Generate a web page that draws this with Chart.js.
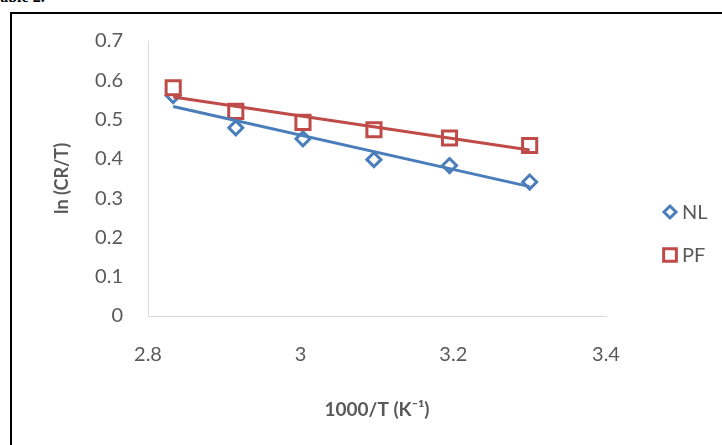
<!DOCTYPE html>
<html>
<head>
<meta charset="utf-8">
<script src="https://cdn.jsdelivr.net/npm/chart.js@4/dist/chart.umd.min.js"></script>
<style>
  html, body { margin: 0; padding: 0; background: #fff; overflow: hidden; }
  #wrap { position: relative; width: 722px; height: 445px; }
  #cap { position: absolute; left: -9px; top: -11px; font: bold 16px "Liberation Serif", serif; color: #000; line-height: 16px; }
  #frame { position: absolute; left: 10px; top: 12px; width: 720px; height: 500px;
           border-left: 2px solid #000; border-top: 2px solid #000; }
  canvas { position: absolute; left: 0; top: 0; }
</style>
</head>
<body>
<div id="wrap">
  <div id="cap">Table 2.</div>
  <div id="frame"></div>
  <canvas id="c" width="722" height="445"></canvas>
</div>
<script>
// 1000/T (K^-1) for each measurement temperature
const invTemp = [2.833, 2.915, 3.003, 3.096, 3.195, 3.300];
// ln(CR/T) per sample
const nlValues = [0.561, 0.479, 0.451, 0.398, 0.383, 0.341];
const pfValues = [0.581, 0.521, 0.493, 0.474, 0.453, 0.434];
// axis tick labels
const xTicks = [2.8, 3, 3.2, 3.4];
const yTicks = [0, 0.1, 0.2, 0.3, 0.4, 0.5, 0.6, 0.7];
const seriesNames = ['NL', 'PF'];

const blue = '#4A7EBB';
const red = '#BE4B48';
const textGrey = '#595959';
const axisGrey = '#D9D9D9';
const FONT = 'Lato, "Open Sans", sans-serif';

function toPoints(xs, ys) {
  return xs.map((x, i) => ({ x: x, y: ys[i] }));
}

// least-squares linear trendline over the x range of the data
function trendline(xs, ys) {
  const n = xs.length;
  const mx = xs.reduce((a, b) => a + b, 0) / n;
  const my = ys.reduce((a, b) => a + b, 0) / n;
  let sxy = 0, sxx = 0;
  for (let i = 0; i < n; i++) {
    sxy += (xs[i] - mx) * (ys[i] - my);
    sxx += (xs[i] - mx) * (xs[i] - mx);
  }
  const slope = sxy / sxx;
  const x0 = Math.min(...xs), x1 = Math.max(...xs);
  return [{ x: x0, y: my + slope * (x0 - mx) }, { x: x1, y: my + slope * (x1 - mx) }];
}

function drawMarker(ctx, style, x, y, r, color, width) {
  ctx.save();
  ctx.beginPath();
  if (style === 'rectRot') {
    ctx.moveTo(x - r, y); ctx.lineTo(x, y - r); ctx.lineTo(x + r, y); ctx.lineTo(x, y + r);
    ctx.closePath();
  } else {
    const s = Math.SQRT1_2 * r;
    ctx.rect(x - s, y - s, 2 * s, 2 * s);
  }
  ctx.fillStyle = '#fff';
  ctx.fill();
  ctx.lineWidth = width;
  ctx.strokeStyle = color;
  ctx.stroke();
  ctx.restore();
}

// legend at the right, one row per series
const sideLegend = {
  id: 'sideLegend',
  afterDraw(chart) {
    const ctx = chart.ctx;
    const rows = [
      { ds: chart.data.datasets[0], y: 212 },
      { ds: chart.data.datasets[1], y: 255 }
    ];
    rows.forEach(row => {
      const ds = row.ds;
      drawMarker(ctx, ds.pointStyle, 670, row.y, ds.pointStyle === 'rect' ? 9 : 6, ds.borderColor, ds.pointBorderWidth);
      ctx.save();
      ctx.fillStyle = textGrey;
      ctx.font = '20px ' + FONT;
      ctx.textBaseline = 'middle';
      ctx.textAlign = 'left';
      ctx.fillText(ds.label, 682, row.y + 1);
      ctx.restore();
    });
  }
};

new Chart(document.getElementById('c'), {
  type: 'scatter',
  data: {
    datasets: [
      {
        label: seriesNames[0],
        data: toPoints(invTemp, nlValues),
        pointStyle: 'rectRot',
        pointRadius: 7,
        pointHoverRadius: 7,
        pointBorderWidth: 3,
        borderColor: blue,
        backgroundColor: '#fff',
        order: 3
      },
      {
        label: seriesNames[1],
        data: toPoints(invTemp, pfValues),
        pointStyle: 'rect',
        pointRadius: 10,
        pointHoverRadius: 10,
        pointBorderWidth: 3,
        borderColor: red,
        backgroundColor: '#fff',
        order: 2
      },
      {
        label: seriesNames[0] + ' trend',
        data: trendline(invTemp, nlValues),
        showLine: true,
        pointRadius: 0,
        borderColor: blue,
        borderWidth: 3,
        order: 1
      },
      {
        label: seriesNames[1] + ' trend',
        data: trendline(invTemp, pfValues),
        showLine: true,
        pointRadius: 0,
        borderColor: red,
        borderWidth: 3,
        order: 0
      }
    ]
  },
  options: {
    responsive: false,
    animation: false,
    devicePixelRatio: 1,
    layout: { padding: { left: 12, top: 41, right: 116, bottom: 0 } },
    plugins: {
      legend: { display: false },
      tooltip: { enabled: false }
    },
    scales: {
      x: {
        type: 'linear',
        min: xTicks[0],
        max: xTicks[xTicks.length - 1],
        afterBuildTicks: s => { s.ticks = xTicks.map(v => ({ value: v })); },
        afterFit: s => { s.height = 129; },
        grid: { display: false, drawTicks: false },
        border: { display: true, color: axisGrey, width: 1 },
        ticks: {
          color: textGrey,
          font: { family: FONT, size: 20 },
          padding: 27,
          callback: v => String(v)
        },
        title: {
          display: true,
          text: '1000/T (K\u207B\u00B9)',
          color: textGrey,
          font: { family: FONT, size: 19, weight: 'bold' },
          padding: { top: 0, bottom: 24 }
        }
      },
      y: {
        type: 'linear',
        min: yTicks[0],
        max: yTicks[yTicks.length - 1],
        afterBuildTicks: s => { s.ticks = yTicks.map(v => ({ value: v })); },
        afterFit: s => { s.width = 136; },
        grid: { display: false, drawTicks: false },
        border: { display: true, color: axisGrey, width: 1 },
        ticks: {
          color: textGrey,
          font: { family: FONT, size: 20 },
          padding: 25,
          callback: v => String(v)
        },
        title: {
          display: true,
          text: 'ln (CR/T)',
          color: textGrey,
          font: { family: FONT, size: 18, weight: 'bold' },
          padding: { top: 39, bottom: 0 }
        }
      }
    }
  },
  plugins: [sideLegend]
});
</script>
</body>
</html>
